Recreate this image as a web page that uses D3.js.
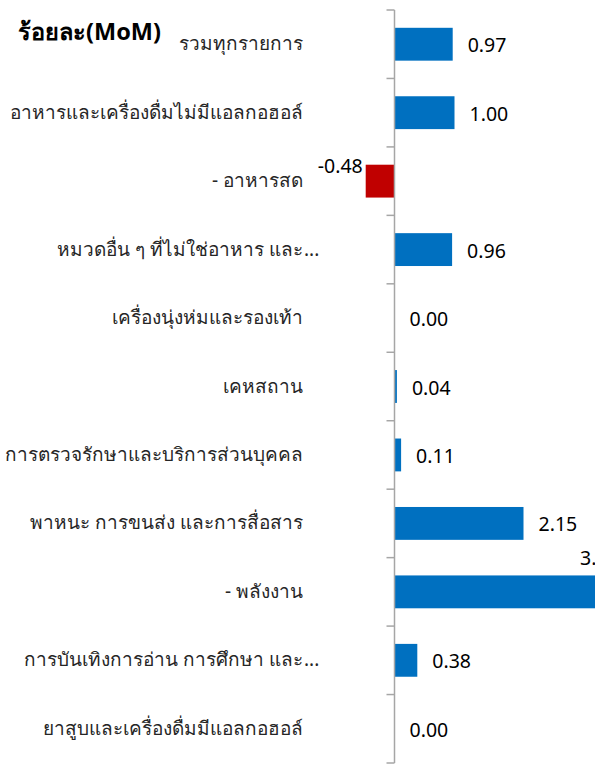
<!DOCTYPE html>
<html>
<head>
<meta charset="utf-8">
<script src="https://cdn.jsdelivr.net/npm/d3@7"></script>
<style>
html,body{margin:0;padding:0;background:#fff;overflow:hidden;}
svg{display:block;}
</style>
</head>
<body>
<script>
const categories = [
  "รวมทุกรายการ",
  "อาหารและเครื่องดื่มไม่มีแอลกอฮอล์",
  "- อาหารสด",
  "หมวดอื่น ๆ ที่ไม่ใช่อาหาร และ...",
  "เครื่องนุ่งห่มและรองเท้า",
  "เคหสถาน",
  "การตรวจรักษาและบริการส่วนบุคคล",
  "พาหนะ การขนส่ง และการสื่อสาร",
  "- พลังงาน",
  "การบันเทิงการอ่าน การศึกษา และ...",
  "ยาสูบและเครื่องดื่มมีแอลกอฮอล์"
];
const values = [0.97, 1.00, -0.48, 0.96, 0.00, 0.04, 0.11, 2.15, 3.42, 0.38, 0.00];
const valueLabels = ["0.97", "1.00", "-0.48", "0.96", "0.00", "0.04", "0.11", "2.15", "3.42", "0.38", "0.00"];
const titleText = "ร้อยละ(MoM)";

const W = 595, H = 764;
const svg = d3.select("body").append("svg").attr("width", W).attr("height", H);
const fontFam = "Tahoma, 'Noto Sans', 'DejaVu Sans', sans-serif";

const x = d3.scaleLinear().domain([0, 1]).range([394.5, 454.5]);
const y = d3.scaleBand().domain(categories).range([10, 763]).paddingInner(0.52).paddingOuter(0.26);
const step = y.step();

// bars
svg.append("g").selectAll("rect").data(values).join("rect")
  .attr("x", d => Math.min(x(0), x(d)))
  .attr("width", d => Math.abs(x(d) - x(0)))
  .attr("y", (d, i) => y(categories[i]))
  .attr("height", y.bandwidth())
  .attr("fill", d => d < 0 ? "#C00000" : "#0070C0");

// axis line and ticks
const axis = svg.append("g").attr("stroke", "#A6A6A6").attr("stroke-width", 1.5);
axis.append("line").attr("x1", x(0)).attr("x2", x(0)).attr("y1", 10).attr("y2", 763);
const tickYs = d3.range(categories.length + 1).map(i => 10 + i * step);
axis.selectAll("line.t").data(tickYs).join("line").attr("class", "t")
  .attr("x1", x(0) - 8).attr("x2", x(0)).attr("y1", d => d).attr("y2", d => d);

// category labels
const labelRight = 303;
const lab = svg.append("g").attr("font-family", fontFam).attr("font-size", 19).attr("fill", "#262626");
categories.forEach((c, i) => {
  const cy = y(c) + y.bandwidth() / 2 + 6;
  const ell = c.endsWith("...");
  const base = ell ? c.slice(0, -3) : c;
  lab.append("text").attr("x", labelRight).attr("y", cy).attr("text-anchor", "end").text(base);
  if (ell) lab.append("text").attr("x", labelRight + 1).attr("y", cy).attr("text-anchor", "start").text("...");
});

// value labels
const vl = svg.append("g").attr("font-family", fontFam).attr("font-size", 19.5).attr("fill", "#000");
values.forEach((v, i) => {
  const cy = y(categories[i]) + y.bandwidth() / 2;
  if (v < 0) {
    vl.append("text").attr("x", x(v) - 3).attr("y", y(categories[i]) + 8).attr("text-anchor", "end").text(valueLabels[i]);
  } else if (x(v) > W) {
    vl.append("text").attr("x", W - 15).attr("y", y(categories[i]) - 10).attr("text-anchor", "start").text(valueLabels[i]);
  } else {
    vl.append("text").attr("x", x(v) + 15).attr("y", cy + 8).attr("text-anchor", "start").text(valueLabels[i]);
  }
});

// title
svg.append("text").attr("x", 18).attr("y", 40).attr("font-family", fontFam)
  .attr("font-size", 23.5).attr("font-weight", "bold").attr("fill", "#000").text(titleText);
</script>
</body>
</html>
